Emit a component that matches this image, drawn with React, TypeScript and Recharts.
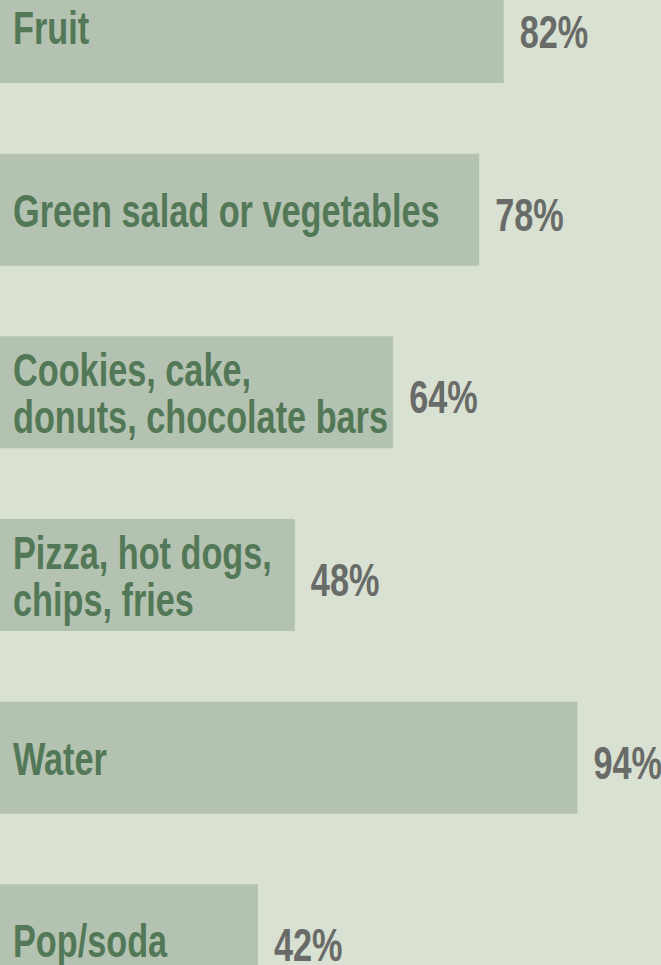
import React from "react";
import { BarChart, Bar, XAxis, YAxis, LabelList } from "recharts";

const categories = [
  "Fruit",
  "Green salad or vegetables",
  "Cookies, cake,\ndonuts, chocolate bars",
  "Pizza, hot dogs,\nchips, fries",
  "Water",
  "Pop/soda",
];
const values = [82, 78, 64, 48, 94, 42];
const valueLabels = ["82%", "78%", "64%", "48%", "94%", "42%"];

const data = categories.map((name, i) => ({ name, value: values[i], label: valueLabels[i] }));

const BG = "#d9e1d3";
const BAR = "#b4c3b1";
const GREEN = "#537857";
const GRAY = "#686b67";
const FONT = "'Liberation Sans', Arial, sans-serif";
const FS = 46;
const SX = 0.745;
const LINE = 47;
const CAP = 17;

const CategoryLabel = (props: any) => {
  const { x, y, height, value } = props;
  const lines = String(value).split("\n");
  const cy = y + height / 2;
  const first = cy + CAP - ((lines.length - 1) * LINE) / 2;
  return (
    <g>
      {lines.map((ln: string, i: number) => {
        const by = first + i * LINE;
        const bx = x + 13;
        return (
          <text
            key={i}
            x={0}
            y={0}
            transform={`translate(${bx},${by}) scale(${SX},1)`}
            fill={GREEN}
            fontFamily={FONT}
            fontWeight="bold"
            fontSize={FS}
          >
            {ln}
          </text>
        );
      })}
    </g>
  );
};

const ValueLabel = (props: any) => {
  const { x, y, width, height, value } = props;
  const bx = x + width + 16;
  const by = y + height / 2 + 21;
  return (
    <text
      x={0}
      y={0}
      transform={`translate(${bx},${by}) scale(${SX},1)`}
      fill={GRAY}
      fontFamily={FONT}
      fontWeight="bold"
      fontSize={FS}
    >
      {value}
    </text>
  );
};

export default function App() {
  return (
    <div
      style={{
        position: "fixed",
        top: 0,
        left: 0,
        width: 661,
        height: 965,
        overflow: "hidden",
        background: BG,
      }}
    >
      <div style={{ marginTop: -64 }}>
        <BarChart
          width={661}
          height={1096}
          data={data}
          layout="vertical"
          margin={{ top: 0, right: 0, bottom: 0, left: 0 }}
        >
          <XAxis type="number" domain={[0, 107.6]} hide />
          <YAxis type="category" dataKey="name" hide />
          <Bar dataKey="value" fill={BAR} barSize={112} isAnimationActive={false}>
            <LabelList dataKey="name" content={CategoryLabel} />
            <LabelList dataKey="label" content={ValueLabel} />
          </Bar>
        </BarChart>
      </div>
    </div>
  );
}
